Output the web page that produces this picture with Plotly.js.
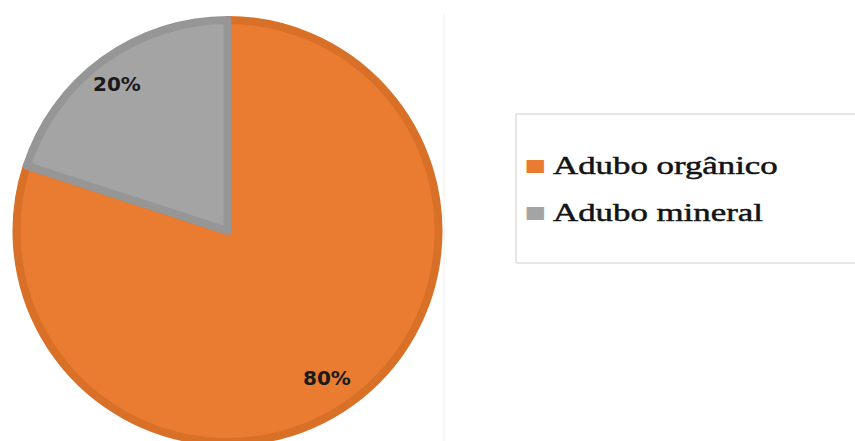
<!DOCTYPE html>
<html>
<head>
<meta charset="utf-8">
<script src="https://cdn.plot.ly/plotly-3.0.1.min.js"></script>
<style>
  html, body { margin: 0; padding: 0; background: #ffffff; overflow: hidden; }
  #chart { width: 855px; height: 460px; }
</style>
</head>
<body>
<div id="chart"></div>
<script>
// Data
const categories = ["Adubo orgânico", "Adubo mineral"];
const values = [80, 20];
const fillColors = ["#E97C30", "#A4A4A4"];
const rimColors = ["#D97028", "#969696"];

const total = values.reduce((a, b) => a + b, 0);
const pctLabels = values.map(v => Math.round(v / total * 100) + "%");

const W = 855, H = 460;
const cx = 227.5, cy = 231, r = 211;

const trace = {
  type: "pie",
  labels: categories,
  values: values,
  sort: true,
  direction: "clockwise",
  rotation: 0,
  textinfo: "none",
  hoverinfo: "label+percent",
  showlegend: false,
  marker: { colors: fillColors, line: { color: rimColors, width: 8 } },
  domain: { x: [(cx - r) / W, (cx + r) / W], y: [(H - cy - r) / H, (H - cy + r) / H] }
};

// percentage label anchor points (paper fractions)
const labelPos = [[327 / W, (H - 378) / H], [117 / W, (H - 83.5) / H]];

const annotations = pctLabels.map((t, i) => ({
  xref: "paper", yref: "paper",
  x: labelPos[i][0], y: labelPos[i][1],
  xanchor: "center", yanchor: "middle",
  text: "<b>" + t + "</b>",
  showarrow: false,
  font: { family: "DejaVu Sans", size: 20, color: "#1a1a1a" }
}));

// legend built as text entries (key glyph + label) inside a framed box
const legendRowY = [165, 212];
const legendCount = annotations.length;
categories.forEach((name, i) => {
  annotations.push({
    xref: "paper", yref: "paper",
    x: 535 / W, y: (H - legendRowY[i]) / H,
    xanchor: "center", yanchor: "middle",
    text: "■", showarrow: false,
    font: { family: "DejaVu Sans", size: 17, color: fillColors[i] }
  });
  annotations.push({
    xref: "paper", yref: "paper",
    x: 551 / W, y: (H - legendRowY[i]) / H,
    xanchor: "left", yanchor: "middle",
    text: name, showarrow: false,
    font: { family: "Liberation Serif", size: 26, color: "#141414" }
  });
});

const layout = {
  width: W, height: H,
  margin: { l: 0, r: 0, t: 0, b: 0 },
  paper_bgcolor: "#ffffff",
  showlegend: false,
  shapes: [
    { type: "rect", xref: "paper", yref: "paper",
      x0: 516 / W, x1: 1.02, y0: (H - 263) / H, y1: (H - 114) / H,
      line: { color: "#cfcfcf", width: 1 }, fillcolor: "rgba(0,0,0,0)", layer: "below" },
    { type: "line", xref: "paper", yref: "paper",
      x0: 444 / W, x1: 444 / W, y0: 0, y1: (H - 14) / H,
      line: { color: "#eeeeee", width: 1 } }
  ],
  annotations: annotations
};

Plotly.newPlot("chart", [trace], layout, { displayModeBar: false, staticPlot: true }).then(gd => {
  // the reference's legend lettering is horizontally widened and slightly heavy
  gd.querySelectorAll(".annotation").forEach(g => {
    const idx = parseInt(g.getAttribute("data-index"), 10);
    if (idx >= legendCount) {
      const t = g.querySelector("text");
      if (t) {
        const isLabel = (idx - legendCount) % 2 === 1;
        t.style.transformBox = "fill-box";
        t.style.transformOrigin = isLabel ? "0% 50%" : "50% 50%";
        t.style.transform = "scaleX(1.34)";
        if (isLabel) {
          t.style.stroke = "#141414";
          t.style.strokeWidth = "0.5px";
        }
      }
    }
  });
});
</script>
</body>
</html>
